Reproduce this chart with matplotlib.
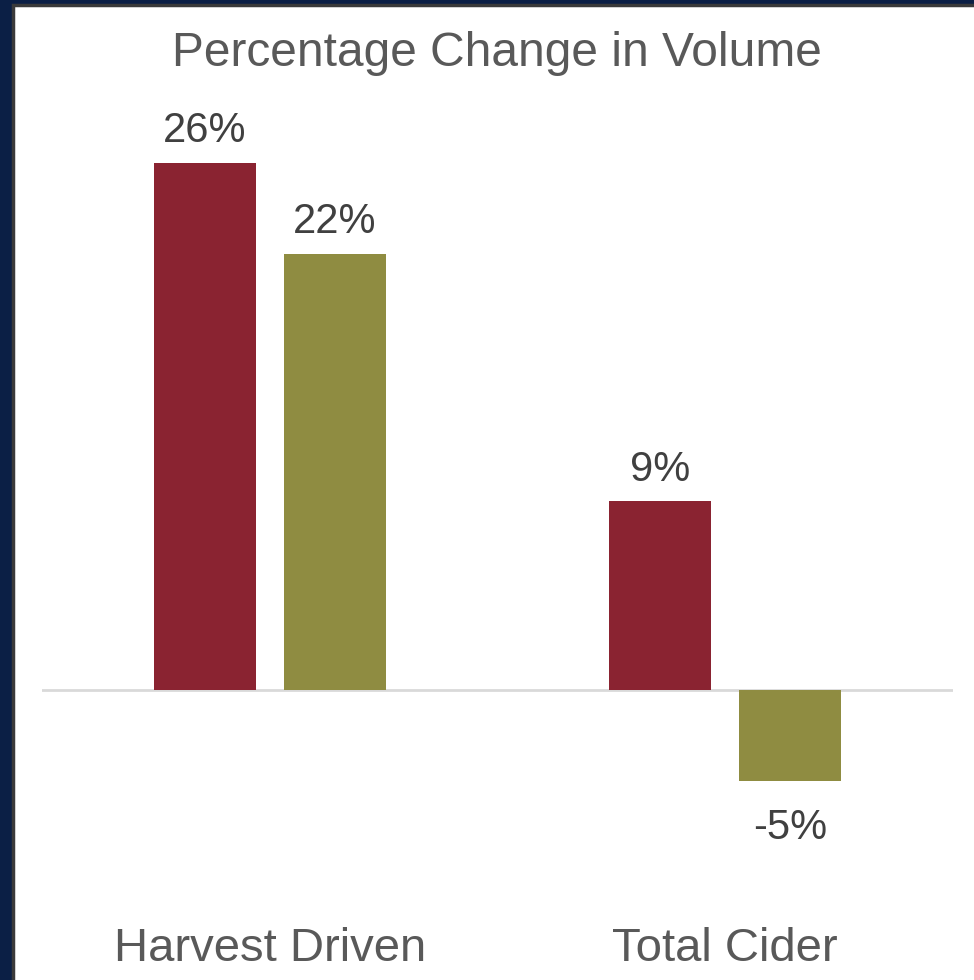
from matplotlib import pyplot as plt
from matplotlib.patches import Rectangle
import matplotlib.transforms as mtransforms
import numpy as np

# Data.
categories = ['Harvest Driven', 'Total Cider']
series_a   = [26.0, 9.3]
series_b   = [21.5, -4.5]
labels_a   = ['26%', '9%']
labels_b   = ['22%', '-5%']

red   = '#8A2331'
olive = '#8F8C41'
plt.rcParams['font.family'] = ['Liberation Sans', 'DejaVu Sans']

fig = plt.figure(figsize=(9.74, 9.80), dpi=100)
fig.patch.set_facecolor('#0B1F45')
# white slide panel with a dark rim
fig.patches.append(Rectangle((13 / 974, -0.1), 1, 1.1 - 5 / 980, transform=fig.transFigure,
                             facecolor='white', edgecolor='#3A3A3A', lw=2.5, zorder=-5))

ax = fig.add_axes([42 / 974, 87.3 / 980, 911 / 974, 770.3 / 980])
ax.set_zorder(5)
ax.set_facecolor('none')
x = np.arange(len(categories))
w, off = 0.224, 0.143
bars_a = ax.bar(x - off, series_a, w, color=red, zorder=2)
bars_b = ax.bar(x + off, series_b, w, color=olive, zorder=2)
ax.axhline(0, color='#D9D9D9', lw=2, zorder=1)
ax.set_xlim(-0.5, 1.5)
ax.set_ylim(-10, 28)
ax.axis('off')

for bars, labs in [(bars_a, labels_a), (bars_b, labels_b)]:
  for b, lab in zip(bars, labs):
    h = b.get_height()
    dy = 23 if h >= 0 else -33.5
    ax.annotate(lab, (b.get_x() + b.get_width() / 2, h), xytext=(0, dy),
                textcoords='offset points', ha='center', va='center',
                fontsize=30, color='#404040')

trans = mtransforms.blended_transform_factory(ax.transData, fig.transFigure)
for xi, cat in zip(x, categories):
  ax.text(xi, 1 - 949 / 980, cat, transform=trans, ha='center', va='center',
          fontsize=34, color='#595959')

fig.text(497 / 974, 1 - 54 / 980, 'Percentage Change in Volume', ha='center',
         va='center', fontsize=34.5, color='#595959')

fig.savefig('out.png', dpi=100, facecolor=fig.get_facecolor())
